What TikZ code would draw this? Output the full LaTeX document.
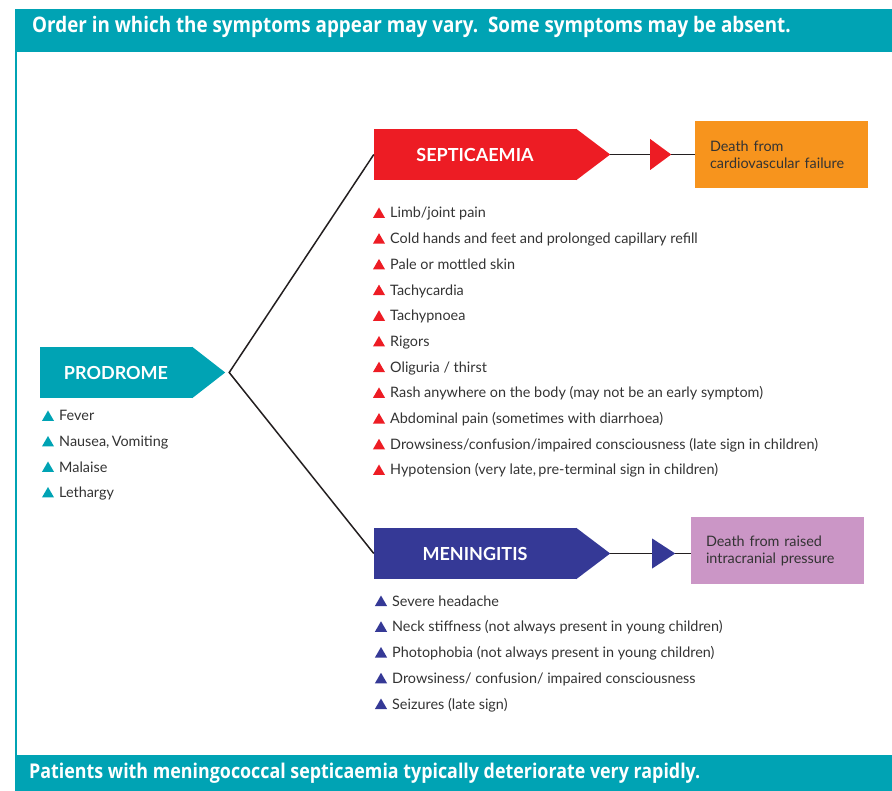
\documentclass[tikz,border=0pt]{standalone}
\usepackage{fontspec}
\setmainfont{Lato}
\newfontfamily\barfont{Open Sans}[FakeStretch=0.88]
\usetikzlibrary{shapes.geometric}

\definecolor{barteal}{RGB}{0,163,180}
\definecolor{septred}{RGB}{237,28,36}
\definecolor{meninblue}{RGB}{53,57,150}
\definecolor{deathorange}{RGB}{247,148,29}
\definecolor{deathpink}{RGB}{203,150,198}
\definecolor{textgrey}{RGB}{51,51,51}
\definecolor{linkblack}{RGB}{35,31,32}

\tikzset{
  note/.style={anchor=base west, inner sep=0, text=white, font=\barfont\bfseries\fontsize{20.3}{21}\selectfont},
  stage/.style={minimum width=202, minimum height=51, inner sep=0, text=white, font=\bfseries\fontsize{18}{18}\selectfont},
  item/.style={anchor=base west, inner sep=0, text=textgrey, font=\fontsize{14.4}{15}\selectfont},
  bullet/.style={regular polygon, regular polygon sides=3, minimum size=14, inner sep=0},
  death/.style={text width=143, inner xsep=15, minimum height=67, align=left, text=textgrey, font=\fontsize{14.4}{17}\selectfont},
  link/.style={linkblack, line width=1.5}
}

\begin{document}
\begin{tikzpicture}[x=1pt, y=-1pt]
  \useasboundingbox (0,0) rectangle (892,791);
  % frame
  \fill[barteal] (15,9) rectangle (892,52);
  \fill[barteal] (15,755) rectangle (892,791);
  \draw[barteal, line width=2] (16,52) -- (16,755);
  \node[note, font=\barfont\bfseries\fontsize{21.4}{22}\selectfont] (topnote) at (32,33) {Order in which the symptoms appear may vary.\ \ Some symptoms may be absent.};
  \node[note] (bottomnote) at (29,778) {Patients with meningococcal septicaemia typically deteriorate very rapidly.};

  % stages
  \node[stage, fill=barteal, minimum width=152] (prodrome) at (116,372.5) {PRODROME};
  \fill[barteal] (prodrome.north east) -- ([xshift=33]prodrome.east) coordinate (prodtip) -- (prodrome.south east) -- cycle;
  \node[stage, fill=septred] (septic) at (475,154.5) {SEPTICAEMIA};
  \fill[septred] (septic.north east) -- ([xshift=34]septic.east) coordinate (septtip) -- (septic.south east) -- cycle;
  \node[stage, fill=meninblue] (mening) at (475,553.5) {MENINGITIS};
  \fill[meninblue] (mening.north east) -- ([xshift=34]mening.east) coordinate (mentip) -- (mening.south east) -- cycle;

  \coordinate (fork) at ([xshift=4]prodtip);
  \draw[link] (septic.west) -- (fork) -- (mening.west);

  % outcomes
  \node[death, fill=deathorange] (septdeath) at (781.5,154.5) {Death from\\cardiovascular failure};
  \node[death, fill=deathpink] (mendeath) at (777.5,550.5) {Death from raised\\intracranial pressure};
  \draw[link] (septtip) -- (septdeath.west |- septtip);
  \draw[link] (mentip) -- (mendeath.west |- mentip);
  \fill[septred] ([xshift=40]septtip) -- ++(0,-15.5) -- ++(21,15.5) -- ++(-21,15.5) -- cycle;
  \fill[meninblue] ([xshift=42]mentip) -- ++(0,-15) -- ++(23,15) -- ++(-23,15) -- cycle;

  % symptom lists
  \foreach \t [count=\i] in {Fever, {Nausea,\,Vomiting}, Malaise, Lethargy} {
    \node[item] (prod\i) at (59, {421+25.5*(\i-1)}) {\t};
    \node[bullet, fill=barteal] at ([xshift=-11, yshift=3.5]prod\i.base west) {};
  }
  \foreach \t [count=\i] in {Limb/joint pain, Cold hands and feet and prolonged capillary refill,
      Pale or mottled skin, Tachycardia, Tachypnoea, Rigors, Oliguria / thirst,
      Rash anywhere on the body (may not be an early symptom),
      Abdominal pain (sometimes with diarrhoea),
      Drowsiness/confusion/impaired consciousness (late sign in children),
      {Hypotension (very late,\,pre-terminal sign in children)}} {
    \node[item] (sept\i) at (390, {218+25.7*(\i-1)}) {\t};
    \node[bullet, fill=septred] at ([xshift=-11, yshift=3.5]sept\i.base west) {};
  }
  \foreach \t [count=\i] in {Severe headache, Neck stiffness (not always present in young children),
      Photophobia (not always present in young children),
      Drowsiness/ confusion/ impaired consciousness, Seizures (late sign)} {
    \node[item] (men\i) at (392, {606+25.75*(\i-1)}) {\t};
    \node[bullet, fill=meninblue] at ([xshift=-11, yshift=3.5]men\i.base west) {};
  }
\end{tikzpicture}
\end{document}
